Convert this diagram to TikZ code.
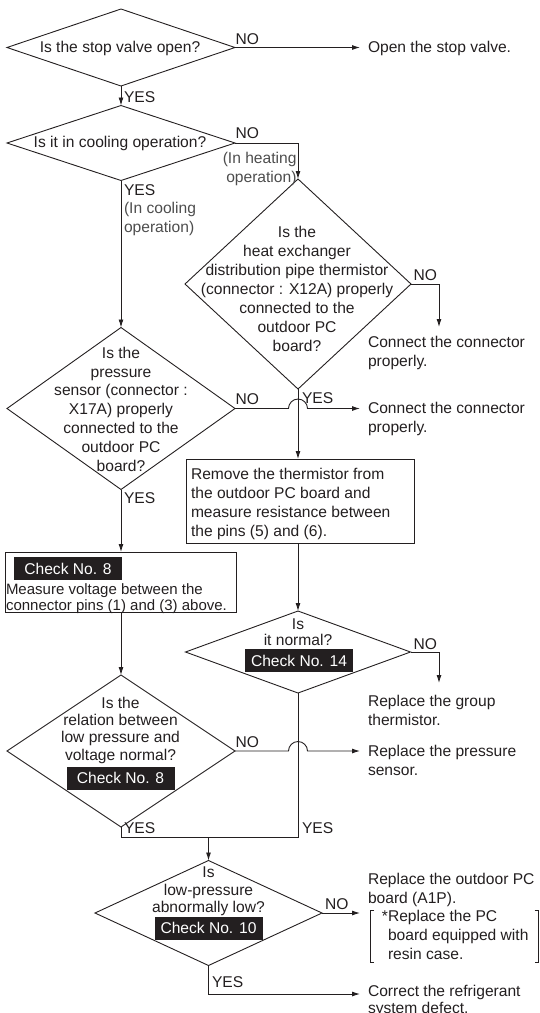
\documentclass[tikz,border=0pt]{standalone}
\usepackage{fontspec}
\setmainfont{Liberation Sans}
\usetikzlibrary{shapes.geometric,arrows.meta}
\definecolor{ink}{HTML}{231F20}
\definecolor{notegray}{HTML}{4D4D4D}

\begin{document}
\begin{tikzpicture}[x=1pt,y=-1pt,
  font=\fontsize{15.6}{19}\selectfont,
  every node/.append style={inner sep=0pt, outer sep=0pt},
  conn/.style={draw=ink, line width=0.9pt},
  flow/.style={conn, -{Latex[length=8pt,width=5pt]}},
  decision/.style={draw=ink, line width=0.9pt, shape=diamond},
  stepbox/.style={draw=ink, line width=0.9pt, shape=rectangle},
  lefttext/.style={anchor=north west, align=left, text=ink},
  midtext/.style={anchor=north, align=center, text=ink},
  lbl/.style={anchor=west, text=ink},
  note/.style={text=notegray},
  check/.style={fill=ink, text=white, minimum width=108pt, minimum height=23pt},
  tight/.style={font=\fontsize{15.6}{17.3}\selectfont},
]
\useasboundingbox (0,0) rectangle (539,1013);

% decision outlines
\node[decision, minimum width=228pt, minimum height=77pt]  (d1) at (121,47.5) {};
\node[decision, minimum width=228pt, minimum height=75pt]  (d2) at (121,143) {};
\node[decision, minimum width=226pt, minimum height=210pt] (d3) at (298,284) {};
\node[decision, minimum width=228pt, minimum height=162pt] (d4) at (121,408.5) {};
\node[decision, minimum width=225pt, minimum height=82pt]  (d5) at (298,652) {};
\node[decision, minimum width=228pt, minimum height=152pt] (d6) at (121,751) {};
\node[decision, minimum width=227pt, minimum height=105pt] (d7) at (208.5,913) {};

% process boxes
\node[stepbox, minimum width=228pt, minimum height=84pt] (b1) at (300,501) {};
\node[stepbox, minimum width=231pt, minimum height=60pt] (b2) at (120.5,582) {};

% questions
\node[midtext] (d1t) at (120,41) {Is the stop valve open?};
\node[midtext] (d2t) at (120,136) {Is it in cooling operation?};
\node[midtext] (d3t) at (297,226) {Is the\\heat exchanger\\distribution pipe thermistor\\(connector : X12A) properly\\connected to the\\outdoor PC\\board?};
\node[midtext, font=\fontsize{15.6}{18.8}\selectfont] (d4t) at (121,347) {Is the\\pressure\\sensor (connector :\\X17A) properly\\connected to the\\outdoor PC\\board?};
\node[midtext, font=\fontsize{15.6}{16}\selectfont] (d5t) at (298,619) {Is\\it normal?};
\node[midtext, tight] (d6t) at (120.5,697) {Is the\\relation between\\low pressure and\\voltage normal?};
\node[midtext, tight] (d7t) at (208.5,867) {Is\\low-pressure\\abnormally low?};

% check references
\node[check] (c8a) at (68,568.5) {Check No. 8};
\node[check] (c14) at (299,660.5) {Check No. 14};
\node[check] (c8b) at (120.5,778) {Check No. 8};
\node[check] (c10) at (208.5,928) {Check No. 10};

% box texts
\node[lefttext] (b1t) at (191,468) {Remove the thermistor from\\the outdoor PC board and\\measure resistance between\\the pins (5) and (6).};
\node[lefttext, font=\fontsize{15}{16}\selectfont] (b2t) at (6,583.5) {Measure voltage between the\\connector pins (1) and (3) above.};

% actions
\node[lefttext] (r1) at (368,41) {Open the stop valve.};
\node[lefttext] (r2) at (368,336) {Connect the connector\\properly.};
\node[lefttext] (r3) at (368,402) {Connect the connector\\properly.};
\node[lefttext] (r4) at (368,695) {Replace the group\\thermistor.};
\node[lefttext] (r5) at (368,745) {Replace the pressure\\sensor.};
\node[lefttext] (r6) at (368,873) {Replace the outdoor PC\\board (A1P).};
\node[lefttext] (r6n) at (388,910) {\llap{*}Replace the PC\\board equipped with\\resin case.};
\node[lefttext, font=\fontsize{15.6}{16.5}\selectfont] (r7) at (368,985.5) {Correct the refrigerant\\system defect.};

% brackets around the note
\draw[conn, line width=0.7pt] (374,910) -- (370.5,910) -- (370.5,962) -- (374,962);
\draw[conn, line width=0.7pt] (534.5,910) -- (538,910) -- (538,962) -- (534.5,962);

% branch labels
\node[lbl] (no1) at (235.5,39) {NO};
\node[lbl] (yes1) at (124,97) {YES};
\node[lbl] (no2) at (235.5,133) {NO};
\node[note, anchor=north east, align=right] (h2) at (296.5,152) {(In heating\\operation)};
\node[lbl] (yes2) at (124,190) {YES};
\node[note, anchor=north west, align=left] (c2) at (124,202) {(In cooling\\operation)};
\node[lbl] (no3) at (413.5,275) {NO};
\node[lbl] (yes3) at (302,398) {YES};
\node[lbl] (no4) at (235.5,399) {NO};
\node[lbl] (yes4) at (124,498) {YES};
\node[lbl] (no5) at (413.5,644) {NO};
\node[lbl] (no6) at (235.5,742) {NO};
\node[lbl] (yes6) at (124,828) {YES};
\node[lbl] (yes5) at (302,828) {YES};
\node[lbl] (no7) at (325,904) {NO};
\node[lbl] (yes7) at (212,982) {YES};

% connectors
\draw[flow, shorten >=8pt] (d1.east) -- (d1.east -| r1.west);
\draw[flow] (d1.south) -- (d2.north);
\draw[flow] (d2.east) -| (d3.north);
\draw[flow] (d2.south) -- (d4.north);
\coordinate (k3) at (439,327);
\draw[flow] (d3.east) -| (k3);
\draw[flow] (d3.south) -- (d3.south |- b1.north);
\coordinate (x4) at (d4.east -| d3.south);
\draw[flow, shorten >=8pt] (d4.east) -- ([xshift=-9.5pt]x4)
  arc[start angle=180, end angle=0, radius=9.5pt] -- (x4 -| r3.west);
\draw[flow] (d4.south) -- (d4.south |- b2.north);
\draw[flow] (b1.south -| d3.south) -- (d5.north);
\draw[flow] (b2.south -| d4.south) -- (d6.north);
\coordinate (k5) at (439,683);
\draw[flow] (d5.east) -| (k5);
\coordinate (x6) at (d6.east -| d5.south);
\draw[flow, shorten >=8pt] (d6.east) -- ([xshift=-9.5pt]x6)
  arc[start angle=180, end angle=0, radius=9.5pt] -- (x6 -| r5.west);
\coordinate (j) at (121,837);
\draw[conn] (d6.south) -- (j) -- (j -| d5.south) -- (d5.south);
\draw[flow] (j -| d7.north) -- (d7.north);
\draw[flow, shorten >=8pt] (d7.east) -- (d7.east -| r6.west);
\coordinate (k7) at (360,994);
\draw[flow] (d7.south) |- (k7);
\end{tikzpicture}
\end{document}
